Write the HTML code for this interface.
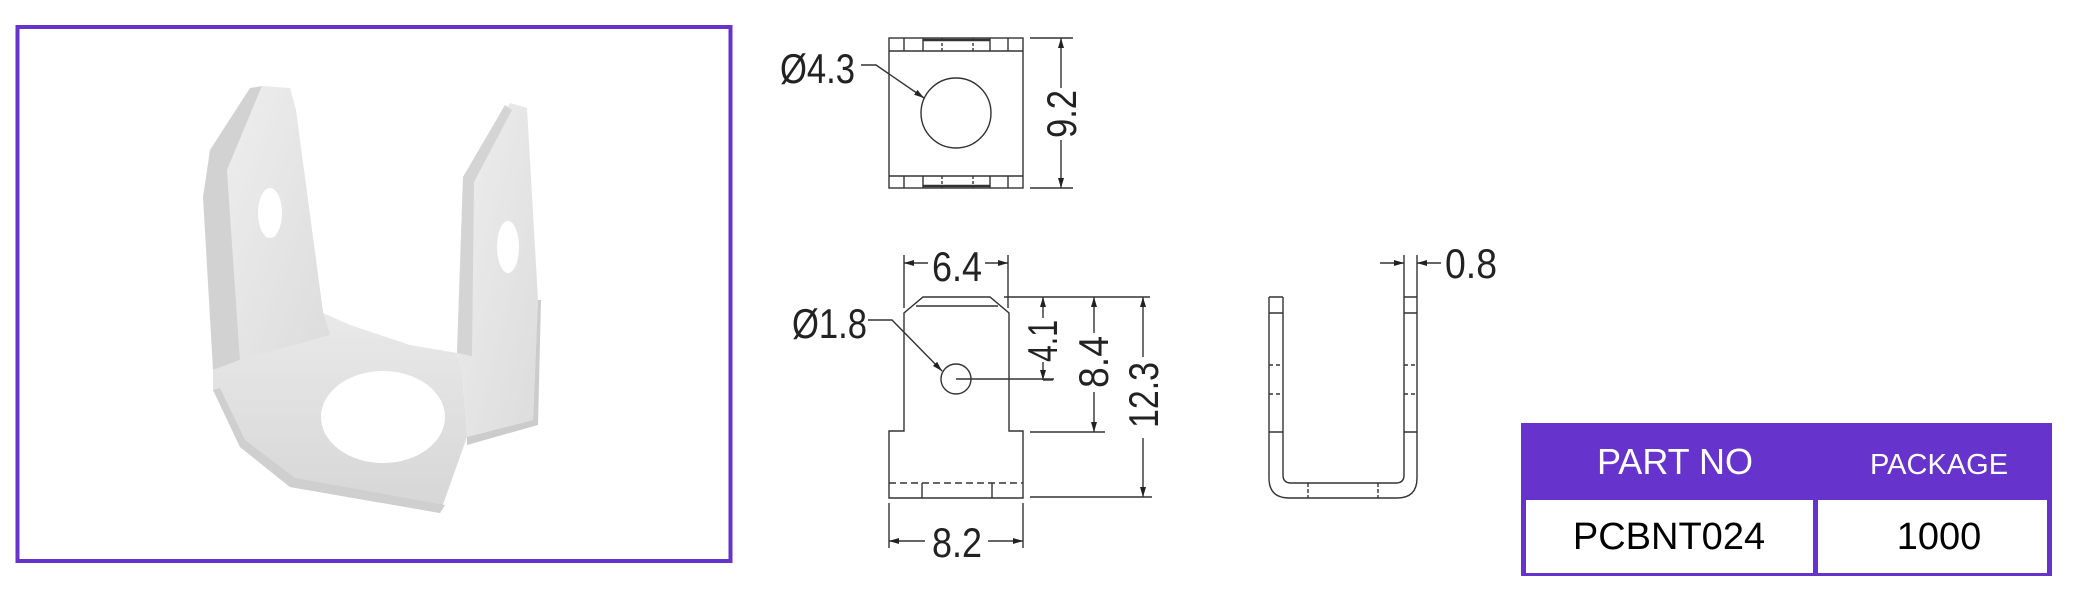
<!DOCTYPE html>
<html><head><meta charset="utf-8"><style>
html,body{margin:0;padding:0;background:#fff;width:2090px;height:597px;overflow:hidden}
svg{display:block}
.d{font-family:"Liberation Sans",sans-serif;font-size:42px;fill:#222}
.t{font-family:"Liberation Sans",sans-serif}
</style></head><body>
<svg width="2090" height="597" viewBox="0 0 2090 597" xmlns="http://www.w3.org/2000/svg">
<defs>
<marker id="a" viewBox="0 0 10 6" refX="10" refY="3" markerWidth="10" markerHeight="6" markerUnits="userSpaceOnUse" orient="auto"><path d="M0,0L10,3L0,6z" fill="#222"/></marker>
<linearGradient id="g1" x1="0" y1="0" x2="1" y2="1"><stop offset="0" stop-color="#eeeeee"/><stop offset="1" stop-color="#dcdcdc"/></linearGradient>
<linearGradient id="g2" x1="0" y1="0" x2="0" y2="1"><stop offset="0" stop-color="#e9e9e9"/><stop offset="1" stop-color="#d6d6d6"/></linearGradient>
</defs>
<rect x="17.5" y="27" width="713" height="534" fill="#fff" stroke="#6633cc" stroke-width="4"/>
<polygon points="240,360 323,313 350,325 410,345 457,353 462,370 467,437 440,513 290,487 240,447 213,390 213,370" fill="url(#g2)"/>
<polygon points="213,390 240,447 290,487 440,513 445,505 295,478 245,440 220,388" fill="#cfcfcf"/>
<polygon points="262,86 290,88 296,110 323,312 330,335 240,360 227,170" fill="url(#g1)"/>
<polygon points="262,86 227,170 240,360 213,370 203,197 210,150 250,88" fill="#d2d2d2"/>
<polygon points="510,103 527,108 538,300 533,420 467,437 462,370 457,353 463,177" fill="url(#g1)"/>
<polygon points="505,105 463,177 457,353 472,356 474,182 512,110" fill="#d4d4d4"/>
<polygon points="533,420 538,300 541,300 538,425 467,445 467,437" fill="#cccccc"/>
<ellipse cx="383" cy="417" rx="62" ry="46" fill="#fff"/>
<ellipse cx="270" cy="213" rx="12" ry="25" fill="#fff"/>
<ellipse cx="508" cy="247" rx="11" ry="26" fill="#fff"/>

<g stroke="#333" stroke-width="1.4" fill="none">
<rect x="889" y="38" width="134" height="150"/>
<line x1="889" y1="51" x2="1023" y2="51"/><line x1="889" y1="176" x2="1023" y2="176"/>
<line x1="904" y1="38" x2="904" y2="51"/><line x1="1008" y1="38" x2="1008" y2="51"/>
<line x1="923" y1="38" x2="923" y2="51"/><line x1="990" y1="38" x2="990" y2="51"/>
<line x1="942" y1="38" x2="942" y2="51" stroke-dasharray="3,2"/><line x1="973" y1="38" x2="973" y2="51" stroke-dasharray="3,2"/>
<line x1="904" y1="176" x2="904" y2="188"/><line x1="1008" y1="176" x2="1008" y2="188"/>
<line x1="923" y1="176" x2="923" y2="188"/><line x1="990" y1="176" x2="990" y2="188"/>
<line x1="942" y1="176" x2="942" y2="188" stroke-dasharray="3,2"/><line x1="973" y1="176" x2="973" y2="188" stroke-dasharray="3,2"/>
<line x1="923" y1="40" x2="990" y2="40" stroke-width="2.5"/><line x1="923" y1="186" x2="990" y2="186" stroke-width="2.5"/>
<circle cx="956" cy="113" r="35"/>
<polyline points="861,65 876,65 924,98" marker-end="url(#a)"/>
<line x1="1030" y1="38" x2="1073" y2="38"/><line x1="1030" y1="188" x2="1073" y2="188"/>
<line x1="1061" y1="88" x2="1061" y2="38" marker-end="url(#a)"/>
<line x1="1061" y1="140" x2="1061" y2="188" marker-end="url(#a)"/>

<polygon points="923,297 990,297 1009,313 1009,431 1023,431 1023,498 889,498 889,431 904,431 904,313"/>
<line x1="916" y1="306" x2="998" y2="306"/>
<line x1="889" y1="483" x2="1023" y2="483" stroke-dasharray="7,4"/>
<line x1="922" y1="483" x2="922" y2="498"/><line x1="992" y1="483" x2="992" y2="498"/>
<circle cx="956" cy="379" r="15"/>
<line x1="956" y1="379" x2="1054" y2="379"/>
<polyline points="868,320 892,320 942,371" marker-end="url(#a)"/>
<line x1="904" y1="255" x2="904" y2="308"/><line x1="1008" y1="255" x2="1008" y2="308"/>
<line x1="928" y1="263" x2="904" y2="263" marker-end="url(#a)"/>
<line x1="985" y1="263" x2="1008" y2="263" marker-end="url(#a)"/>
<line x1="1004" y1="297" x2="1150" y2="297"/>
<line x1="1030" y1="432" x2="1105" y2="432"/>
<line x1="1030" y1="497" x2="1152" y2="497"/>
<line x1="1043" y1="318" x2="1043" y2="297" marker-end="url(#a)"/>
<line x1="1043" y1="362" x2="1043" y2="380" marker-end="url(#a)"/>
<line x1="1043" y1="380" x2="1053" y2="380"/>
<line x1="1094" y1="333" x2="1094" y2="297" marker-end="url(#a)"/>
<line x1="1094" y1="392" x2="1094" y2="432" marker-end="url(#a)"/>
<line x1="1143" y1="357" x2="1143" y2="297" marker-end="url(#a)"/>
<line x1="1143" y1="438" x2="1143" y2="497" marker-end="url(#a)"/>
<line x1="889" y1="503" x2="889" y2="548"/><line x1="1023" y1="503" x2="1023" y2="548"/>
<line x1="925" y1="541" x2="889" y2="541" marker-end="url(#a)"/>
<line x1="988" y1="541" x2="1023" y2="541" marker-end="url(#a)"/>

<path d="M1269,297 L1269,478 Q1269,498 1289,498 L1397,498 Q1417,498 1417,478 L1417,297"/>
<path d="M1283,297 L1283,475 Q1283,483 1291,483 L1396,483 Q1404,483 1404,475 L1404,297"/>
<path d="M1269,297 L1283,297 M1404,297 L1417,297"/>
<path d="M1269,313 L1283,313 M1404,313 L1417,313 M1269,432 L1283,432 M1404,432 L1417,432"/>
<path d="M1269,365 L1283,365 M1404,365 L1417,365 M1269,394 L1283,394 M1404,394 L1417,394" stroke-dasharray="4,3"/>
<line x1="1308" y1="483" x2="1308" y2="498" stroke-dasharray="4,2"/><line x1="1378" y1="483" x2="1378" y2="498" stroke-dasharray="4,2"/>
<line x1="1404" y1="255" x2="1404" y2="297"/><line x1="1417" y1="255" x2="1417" y2="297"/>
<line x1="1380" y1="263" x2="1404" y2="263" marker-end="url(#a)"/>
<line x1="1441" y1="263" x2="1417" y2="263" marker-end="url(#a)"/>
</g>

<text class="d" x="780" y="83" textLength="75" lengthAdjust="spacingAndGlyphs">Ø4.3</text>
<text class="d" x="792" y="338" textLength="75" lengthAdjust="spacingAndGlyphs">Ø1.8</text>
<text class="d" x="932" y="281" textLength="50" lengthAdjust="spacingAndGlyphs">6.4</text>
<text class="d" x="932" y="557" textLength="50" lengthAdjust="spacingAndGlyphs">8.2</text>
<text class="d" x="1445" y="278" textLength="52" lengthAdjust="spacingAndGlyphs">0.8</text>
<text class="d" transform="translate(1076,138) rotate(-90)" textLength="48" lengthAdjust="spacingAndGlyphs">9.2</text>
<text class="d" transform="translate(1057,362) rotate(-90)" textLength="42" lengthAdjust="spacingAndGlyphs">4.1</text>
<text class="d" transform="translate(1108,388) rotate(-90)" textLength="52" lengthAdjust="spacingAndGlyphs">8.4</text>
<text class="d" transform="translate(1158,428) rotate(-90)" textLength="66" lengthAdjust="spacingAndGlyphs">12.3</text>

<rect x="1521" y="423" width="531" height="153" fill="#6633cc"/>
<rect x="1526" y="500" width="287" height="73" fill="#fff"/>
<rect x="1818" y="500" width="229" height="73" fill="#fff"/>
<text class="t" x="1675" y="474" font-size="36" fill="#fff" text-anchor="middle">PART NO</text>
<text class="t" x="1939" y="474" font-size="29" fill="#fff" text-anchor="middle">PACKAGE</text>
<text class="t" x="1669" y="549" font-size="38" fill="#000" text-anchor="middle">PCBNT024</text>
<text class="t" x="1939" y="549" font-size="38" fill="#000" text-anchor="middle">1000</text>
</svg>
</body></html>
